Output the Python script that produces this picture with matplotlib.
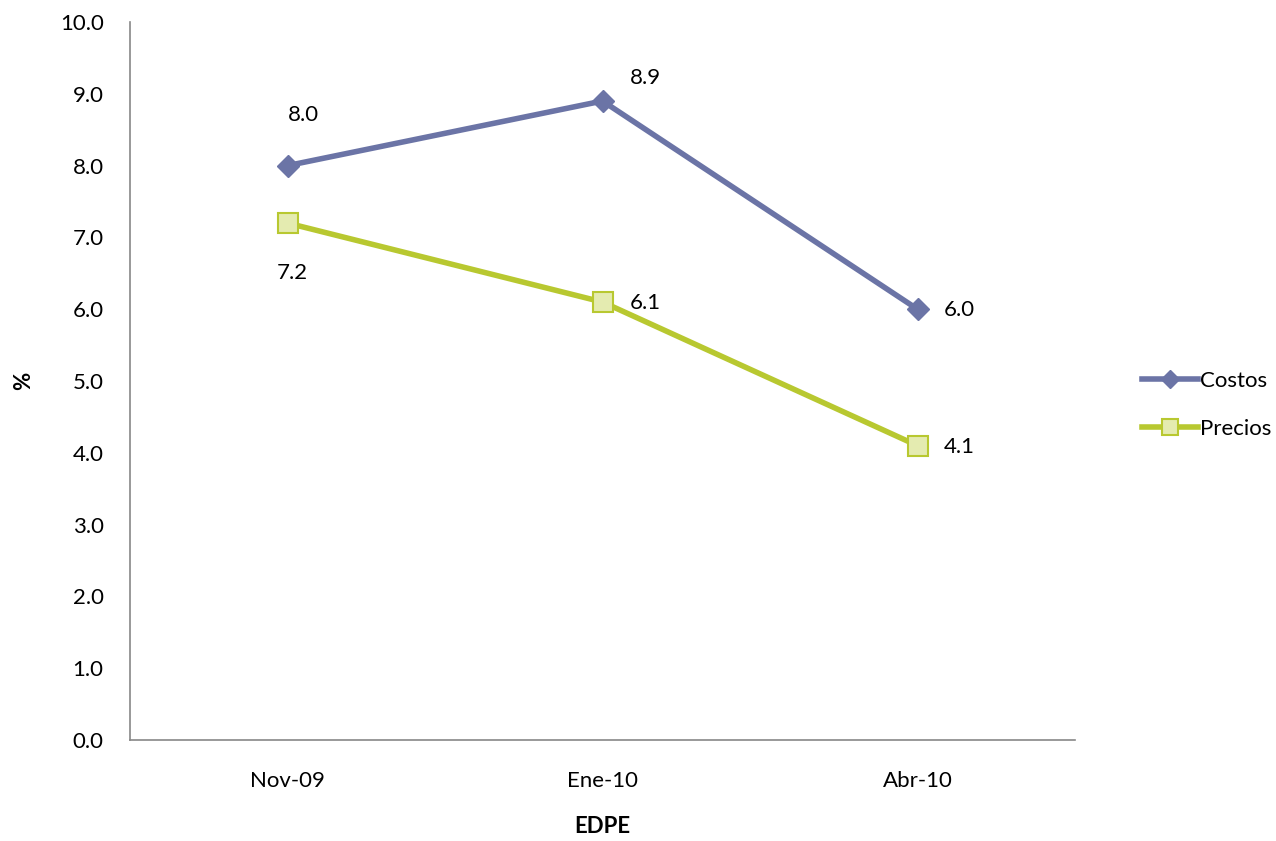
import matplotlib
matplotlib.use("Agg")
import matplotlib.pyplot as plt

categories = ["Nov-09", "Ene-10", "Abr-10"]
costos = [8.0, 8.9, 6.0]
precios = [7.2, 6.1, 4.1]
costos_offsets = [(16, 51), (43, 23), (42, -1)]
precios_offsets = [(5, -50), (43, -1), (42, -1)]

plt.rcParams['font.family'] = ['Lato', 'DejaVu Sans']

fig = plt.figure(figsize=(12.76, 8.41), dpi=100)
ax = fig.add_axes([0.1019, 0.1201, 0.7406, 0.8537])

x = range(len(categories))
ax.plot(x, costos, color="#6B74A6", linewidth=4, marker="D", markersize=11,
        markerfacecolor="#6B74A6", markeredgecolor="#6B74A6", label="Costos")
ax.plot(x, precios, color="#B8C830", linewidth=4, marker="s", markersize=14,
        markerfacecolor="#E4EBB0", markeredgecolor="#B8C830", markeredgewidth=1.5,
        label="Precios")

for i, v in enumerate(costos):
    ax.annotate(f"{v:.1f}", (i, v), xytext=costos_offsets[i], textcoords="offset pixels",
                ha="center", va="center", fontsize=16)
for i, v in enumerate(precios):
    ax.annotate(f"{v:.1f}", (i, v), xytext=precios_offsets[i], textcoords="offset pixels",
                ha="center", va="center", fontsize=16)

ax.set_xlim(-0.5, 2.5)
ax.set_ylim(0, 10)
ax.set_yticks([i for i in range(11)])
ax.set_yticklabels([f"{i:.1f}" for i in range(11)])
ax.set_xticks(list(x))
ax.set_xticklabels(categories)
ax.tick_params(axis="both", length=0, labelsize=16)
ax.tick_params(axis="y", pad=19)
ax.tick_params(axis="x", pad=22)

for s in ["top", "right"]:
    ax.spines[s].set_visible(False)
for s in ["left", "bottom"]:
    ax.spines[s].set_color("#888888")
    ax.spines[s].set_linewidth(1.2)

ax.set_xlabel("EDPE", fontsize=16, fontweight="bold", labelpad=18)
ax.set_ylabel("%", fontsize=16, fontweight="bold")
ax.yaxis.set_label_coords(-0.102, 0.5)

ax.legend(loc="center left", bbox_to_anchor=(1.05, 0.467), frameon=False,
          fontsize=16, handlelength=2.5, handletextpad=0.1, labelspacing=1.25,
          markerscale=0.85)

fig.savefig("out.png", dpi=100)
